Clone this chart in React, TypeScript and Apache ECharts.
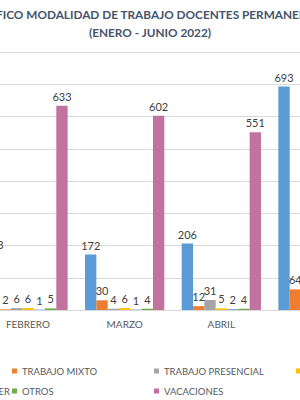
import React, { useEffect, useRef } from "react";
import * as echarts from "echarts";

const categories = ["ENERO", "FEBRERO", "MARZO", "ABRIL", "MAYO", "JUNIO"];
const seriesNames = [
  "TRABAJO REMOTO",
  "TRABAJO MIXTO",
  "TRABAJO PRESENCIAL",
  "LICENCIA",
  "SIN GOCE DE HABER",
  "OTROS",
  "VACACIONES",
];
const remoto = [null, 173, 172, 206, 693, null];
const mixto = [null, 2, 30, 12, 64, null];
const presencial = [null, 6, 4, 31, null, null];
const licencia = [null, 6, 6, 5, null, null];
const sinGoce = [null, 1, 1, 2, null, null];
const otros = [null, 5, 4, 4, null, null];
const vacaciones = [null, 633, 602, 551, null, null];
const seriesValues = [remoto, mixto, presencial, licencia, sinGoce, otros, vacaciones];
const colors = ["#5B9BD5", "#ED7D31", "#A5A5A5", "#FFC000", "#4472C4", "#70AD47", "#C2729E"];
const yTicks = { min: 0, max: 800, interval: 100 };

const FONT = "Lato, 'Noto Sans', sans-serif";

export default function App() {
  const ref = useRef<HTMLDivElement>(null);
  useEffect(() => {
    if (!ref.current) return;
    const chart = echarts.init(ref.current, undefined, { renderer: "svg" });
    chart.setOption({
      animation: false,
      color: colors,
      textStyle: { fontFamily: FONT },
      title: {
        text: "GRÁFICO MODALIDAD DE TRABAJO DOCENTES PERMANENTES\n(ENERO - JUNIO 2022)",
        left: "center",
        top: 5,
        padding: 0,
        textStyle: {
          fontFamily: FONT,
          fontSize: 11.8,
          fontWeight: "bold",
          color: "#44546A",
          lineHeight: 18,
          align: "center",
        },
      },
      grid: { left: 53, right: 7, top: 52, bottom: 100, containLabel: false },
      legend: {
        left: 40,
        top: 362,
        width: 570,
        padding: 0,
        itemGap: 2,
        itemWidth: 5,
        itemHeight: 5,
        icon: "rect",
        formatter: (name: string) => (name === seriesNames[4] ? `{r|${name}}` : name),
        textStyle: {
          fontFamily: FONT,
          fontSize: 9.5,
          color: "#595959",
          width: 130,
          lineHeight: 18,
          rich: {
            r: { align: "right", fontFamily: FONT, fontSize: 9.5, color: "#595959", lineHeight: 18 },
          },
        },
        data: seriesNames,
      },
      xAxis: {
        type: "category",
        data: categories,
        axisLine: { lineStyle: { color: "#D9D9D9" } },
        axisTick: { show: false },
        axisLabel: { color: "#595959", fontSize: 10, margin: 9, fontFamily: FONT },
      },
      yAxis: {
        type: "value",
        min: yTicks.min,
        max: yTicks.max,
        interval: yTicks.interval,
        axisLine: { show: false },
        axisTick: { show: false },
        axisLabel: { show: false },
        splitLine: { lineStyle: { color: "#D9D9D9" } },
      },
      series: seriesNames.map((name, i) => ({
        name,
        type: "bar",
        data: seriesValues[i],
        barGap: "0%",
        barCategoryGap: "18%",
        label: {
          show: true,
          position: "top",
          distance: 4,
          color: "#404040",
          fontSize: 11,
          fontFamily: FONT,
        },
      })),
    });
    return () => chart.dispose();
  }, []);
  return (
    <div
      style={{
        position: "fixed",
        left: 0,
        top: 0,
        width: 300,
        height: 400,
        overflow: "hidden",
        background: "#fff",
      }}
    >
      <div ref={ref} style={{ position: "absolute", left: -170, top: 0, width: 640, height: 410 }} />
    </div>
  );
}
